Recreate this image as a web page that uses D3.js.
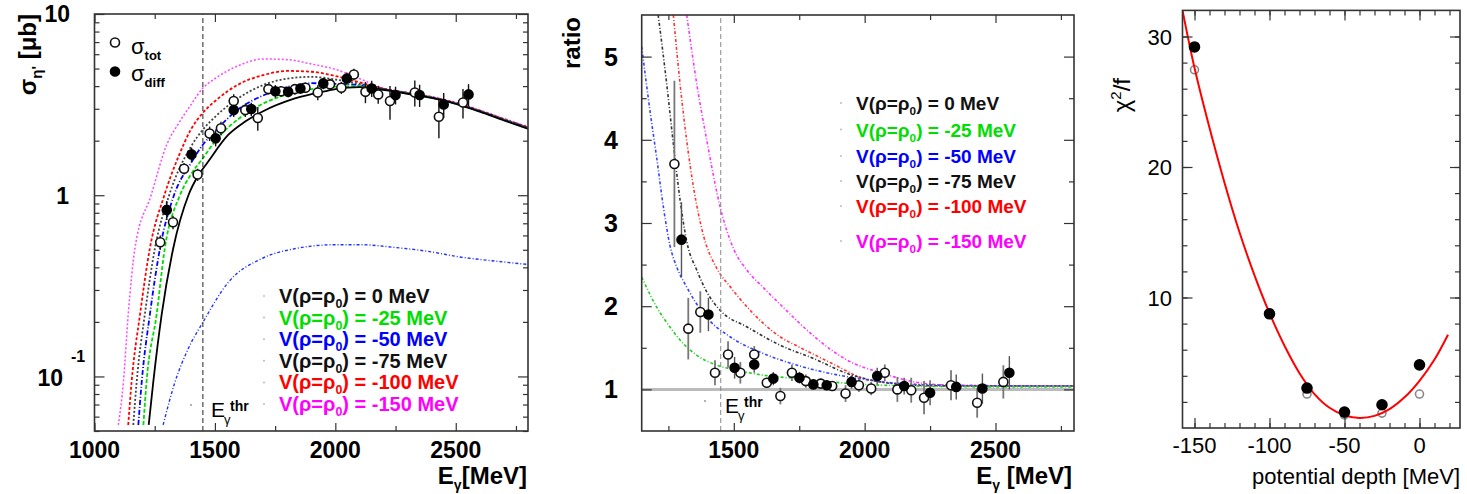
<!DOCTYPE html>
<html>
<head>
<meta charset="utf-8">
<script src="https://cdn.jsdelivr.net/npm/d3@7"></script>
<style>
  body { margin: 0; background: #fff; }
  svg { display: block; font-family: "Liberation Sans", Arial, sans-serif; }
</style>
</head>
<body>
<div id="chart"></div>
<script>
// ---------- values ----------
var potentials = ["0", "-25", "-50", "-75", "-100", "-150"]

// measured points: open = sigma_tot, filled = sigma_diff
var eTot = [1273, 1326, 1372, 1428, 1478, 1525, 1578, 1626, 1678, 1722, 1775, 1832, 1876, 1927, 1978, 2025, 2077, 2125, 2178, 2227, 2330, 2430, 2530]
var sigTot = [0.55, 0.71, 1.40, 1.30, 2.19, 2.34, 3.31, 2.95, 2.67, 3.85, 3.75, 3.85, 3.92, 3.69, 4.09, 3.92, 4.64, 3.72, 3.60, 3.31, 3.69, 2.71, 3.25]
var sigTotErr = [0.05, 0.06, 0.1, 0.1, 0.2, 0.2, 0.3, 0.25, 0.4, 0.25, 0.25, 0.25, 0.25, 0.35, 0.3, 0.3, 0.35, 0.5, 0.4, 0.7, 0.6, 0.65, 0.6]
var ratioTot = [3.71, 1.73, 1.93, 1.20, 1.42, 1.20, 1.42, 1.08, 0.92, 1.20, 1.10, 1.07, 1.04, 0.95, 1.05, 1.01, 1.20, 1.00, 0.99, 0.90, 1.05, 0.84, 1.09]
var ratioTotErr = [1.0, 0.37, 0.25, 0.15, 0.16, 0.13, 0.1, 0.06, 0.1, 0.1, 0.08, 0.06, 0.06, 0.1, 0.08, 0.08, 0.1, 0.15, 0.15, 0.2, 0.18, 0.18, 0.2]

var eDiff = [1300, 1403, 1503, 1578, 1651, 1751, 1804, 1855, 1950, 2048, 2151, 2250, 2350, 2450, 2553]
var sigDiff = [0.83, 1.68, 2.06, 2.95, 2.99, 3.75, 3.72, 3.88, 4.14, 4.41, 3.88, 3.57, 3.57, 3.17, 3.60]
var sigDiffErr = [0.1, 0.15, 0.2, 0.25, 0.25, 0.3, 0.25, 0.25, 0.3, 0.35, 0.4, 0.4, 0.5, 0.5, 0.5]
var ratioDiff = [2.80, 1.90, 1.26, 1.30, 1.13, 1.14, 1.06, 1.05, 1.09, 1.16, 1.04, 0.96, 1.03, 1.01, 1.20]
var ratioDiffErr = [0.45, 0.2, 0.13, 0.1, 0.08, 0.07, 0.06, 0.06, 0.08, 0.1, 0.1, 0.15, 0.15, 0.18, 0.2]

// model cross sections [E, sigma] for each potential depth
var sigV0 = [[1225,0.054],[1244,0.093],[1279,0.22],[1327,0.51],[1390,1.0],[1430,1.28],[1470,1.52],[1555,2.15],[1624,2.54],[1694,2.88],[1832,3.42],[1970,3.78],[2000,3.85],[2100,3.95],[2200,3.82],[2300,3.63],[2400,3.44],[2500,3.19],[2600,2.89],[2700,2.59],[2800,2.33]]
var sigV25 = [[1203,0.054],[1216,0.093],[1258,0.22],[1292,0.51],[1355,1.0],[1400,1.3],[1450,1.6],[1500,1.98],[1600,2.65],[1700,3.2],[1800,3.6],[1900,3.85],[2000,3.97],[2100,4.0],[2200,3.83],[2300,3.64],[2400,3.45],[2500,3.2],[2600,2.9],[2700,2.6],[2800,2.34]]
var sigV50 = [[1182,0.054],[1196,0.093],[1230,0.22],[1272,0.51],[1330,1.0],[1400,1.5],[1450,1.9],[1500,2.25],[1600,3.0],[1700,3.55],[1800,3.95],[1900,4.15],[2000,4.12],[2100,4.05],[2200,3.84],[2300,3.65],[2400,3.46],[2500,3.21],[2600,2.91],[2700,2.61],[2800,2.35]]
var sigV75 = [[1161,0.054],[1175,0.093],[1209,0.22],[1251,0.51],[1310,1.0],[1400,1.85],[1450,2.3],[1500,2.7],[1600,3.45],[1700,4.05],[1800,4.4],[1900,4.5],[2000,4.35],[2100,4.12],[2200,3.85],[2300,3.66],[2400,3.47],[2500,3.22],[2600,2.92],[2700,2.62],[2800,2.36]]
var sigV100 = [[1140,0.054],[1154,0.093],[1189,0.22],[1230,0.51],[1290,1.0],[1350,1.65],[1400,2.3],[1450,2.85],[1500,3.3],[1600,4.1],[1700,4.6],[1800,4.85],[1900,4.8],[2000,4.55],[2100,4.2],[2200,3.87],[2300,3.67],[2400,3.48],[2500,3.23],[2600,2.93],[2700,2.63],[2800,2.37]]
var sigV150 = [[1099,0.054],[1120,0.093],[1140,0.22],[1168,0.51],[1235,1.0],[1300,1.9],[1350,2.5],[1400,3.15],[1450,3.9],[1500,4.4],[1600,5.2],[1700,5.65],[1800,5.6],[1900,5.3],[2000,4.95],[2100,4.4],[2200,3.9],[2300,3.69],[2400,3.5],[2500,3.25],[2600,2.95],[2700,2.65],[2800,2.39]]
var sigLow = [[1285,0.054],[1334,0.093],[1389,0.142],[1451,0.2],[1555,0.33],[1694,0.447],[1832,0.507],[1998,0.533],[2108,0.533],[2247,0.515],[2385,0.49],[2523,0.455],[2650,0.435],[2800,0.415]]

// model ratios [E, ratio]
var ratioV25 = [[1148,2.35],[1160,2.27],[1205,1.99],[1256,1.75],[1307,1.55],[1359,1.41],[1436,1.29],[1512,1.23],[1614,1.17],[1743,1.13],[1870,1.09],[2000,1.06],[2200,1.04],[2500,1.03],[2800,1.03]]
var ratioV50 = [[1148,5.12],[1180,4.34],[1205,3.79],[1231,3.19],[1256,2.73],[1282,2.47],[1320,2.23],[1384,1.91],[1487,1.63],[1614,1.43],[1743,1.29],[1870,1.19],[2000,1.12],[2100,1.08],[2300,1.05],[2800,1.04]]
var ratioV75 = [[1211,5.5],[1244,4.66],[1269,3.95],[1295,3.27],[1320,2.78],[1359,2.43],[1397,2.17],[1448,1.95],[1551,1.75],[1678,1.53],[1806,1.37],[1934,1.19],[2062,1.09],[2189,1.05],[2400,1.04],[2800,1.04]]
var ratioV100 = [[1269,5.5],[1295,4.66],[1320,3.99],[1346,3.43],[1384,2.85],[1436,2.45],[1487,2.23],[1551,1.99],[1614,1.79],[1678,1.63],[1743,1.52],[1806,1.42],[1870,1.32],[1998,1.13],[2126,1.07],[2300,1.05],[2800,1.04]]
var ratioV150 = [[1320,5.5],[1359,4.66],[1397,3.99],[1448,3.19],[1499,2.69],[1551,2.43],[1614,2.22],[1678,2.02],[1743,1.82],[1806,1.64],[1870,1.48],[1934,1.35],[2062,1.2],[2190,1.09],[2318,1.05],[2500,1.04],[2800,1.04]]

// chi2 per degree of freedom vs potential depth
var depth = [-150, -100, -75, -50, -25, 0]
var chiDiff = [29.2, 8.75, 3.06, 1.22, 1.78, 4.84]
var chiTot = [27.45, 8.75, 2.6, 1.0, 1.14, 2.6]
var chiFit = [[-158,32.0],[-150,27.6],[-140,23.0],[-130,18.8],[-120,15.0],[-110,11.7],[-100,8.8],[-90,6.3],[-80,4.2],[-70,2.6],[-60,1.55],[-50,0.98],[-40,0.77],[-30,0.93],[-20,1.45],[-10,2.35],[0,3.62],[10,5.25],[19,7.15]]

var thresholdE = 1450

// ---------- drawing ----------
var svg = d3.select('#chart').append('svg')
  .attr('width', 1467).attr('height', 494)

var legendColours = ['#111', '#00dd00', '#0000ff', '#111', '#ff0000', '#ff00ff']

function inwardTicks(g, x, y, xMajor, xMinor, yMajor, yMinor, xl, yl) {
  var xr = x.range(), yr = y.range()
  function add(axis, vals, len, tr) {
    g.append('g').attr('transform', tr)
      .call(axis.tickValues(vals).tickSize(-len).tickFormat(''))
      .call(function(s) { s.select('.domain').remove() })
      .selectAll('line').attr('stroke', '#333').attr('stroke-width', 1.2)
  }
  add(d3.axisBottom(x), xMajor, xl[0], 'translate(0,' + yr[0] + ')')
  add(d3.axisBottom(x), xMinor, xl[1], 'translate(0,' + yr[0] + ')')
  add(d3.axisTop(x), xMajor, xl[0], 'translate(0,' + yr[1] + ')')
  add(d3.axisTop(x), xMinor, xl[1], 'translate(0,' + yr[1] + ')')
  add(d3.axisLeft(y), yMajor, yl[0], 'translate(' + xr[0] + ',0)')
  add(d3.axisLeft(y), yMinor, yl[1], 'translate(' + xr[0] + ',0)')
  add(d3.axisRight(y), yMajor, yl[0], 'translate(' + xr[1] + ',0)')
  add(d3.axisRight(y), yMinor, yl[1], 'translate(' + xr[1] + ',0)')
}

function frame(g, x, y) {
  var xr = x.range(), yr = y.range()
  g.append('rect')
    .attr('x', xr[0]).attr('y', yr[1])
    .attr('width', xr[1] - xr[0]).attr('height', yr[0] - yr[1])
    .attr('fill', 'none').attr('stroke', '#333').attr('stroke-width', 1.6)
}

function clipFor(id, x, y) {
  var xr = x.range(), yr = y.range()
  svg.append('clipPath').attr('id', id).append('rect')
    .attr('x', xr[0]).attr('y', yr[1])
    .attr('width', xr[1] - xr[0]).attr('height', yr[0] - yr[1])
  return 'url(#' + id + ')'
}

function legendLine(g, x, y, value, colour, size) {
  g.append('circle').attr('cx', x - 15).attr('cy', y - 7).attr('r', 1).attr('fill', '#bbb')
  var t = g.append('text').attr('x', x).attr('y', y)
    .attr('font-size', size).attr('font-weight', 'bold').attr('fill', colour)
  t.append('tspan').text('V(ρ=ρ')
  t.append('tspan').attr('font-size', size * 0.62).attr('dy', 5).text('0')
  t.append('tspan').attr('dy', -5).text(') = ' + value + ' MeV')
}

function thrLabel(g, x, y) {
  g.append('circle').attr('cx', x - 20).attr('cy', y - 12).attr('r', 1).attr('fill', '#999')
  g.append('text').attr('x', x).attr('y', y).attr('font-size', 21).text('E')
  g.append('text').attr('x', x + 13).attr('y', y + 7).attr('font-size', 13).text('γ')
  g.append('text').attr('x', x + 19).attr('y', y - 6).attr('font-size', 14)
    .attr('font-weight', 'bold').text('thr')
}

function energyTitle(g, xEnd, y, gap) {
  var t = g.append('text').attr('x', xEnd).attr('y', y).attr('text-anchor', 'end')
    .attr('font-size', 24).attr('font-weight', 'bold')
  t.append('tspan').text('E')
  t.append('tspan').attr('font-size', 14).attr('dy', 6).text('γ')
  t.append('tspan').attr('dy', -6).text(gap + '[MeV]')
}

function errorBars(g, x, y, es, vs, errs, colour, width) {
  g.selectAll(null).data(es).enter().append('line')
    .attr('x1', function(d) { return x(d) }).attr('x2', function(d) { return x(d) })
    .attr('y1', function(d, i) { return y(vs[i] + errs[i]) })
    .attr('y2', function(d, i) { return y(Math.max(vs[i] - errs[i], y.domain()[0])) })
    .attr('stroke', colour).attr('stroke-width', width)
}

function markers(g, x, y, es, vs, filled, r, edge) {
  g.selectAll(null).data(es).enter().append('circle')
    .attr('cx', function(d) { return x(d) })
    .attr('cy', function(d, i) { return y(vs[i]) })
    .attr('r', r)
    .attr('fill', filled ? '#000' : '#fff')
    .attr('stroke', filled ? '#000' : edge).attr('stroke-width', 1.6)
}

// ===== left panel: cross sections =====
var xL = d3.scaleLinear().domain([1000, 2800]).range([94.5, 528])
var yL = d3.scaleLog().domain([0.05, 10]).range([431, 14])
var gL = svg.append('g')
var clipL = clipFor('clipL', xL, yL)

var lineL = d3.line().x(function(d) { return xL(d[0]) }).y(function(d) { return yL(d[1]) })
  .curve(d3.curveMonotoneX)

var curvesL = [
  { data: sigLow, colour: '#2233ff', dash: '3,2,1,2', w: 1.4 },
  { data: sigV150, colour: '#ff44ff', dash: '2,2', w: 1.5 },
  { data: sigV100, colour: '#ff0000', dash: '3,2', w: 1.8 },
  { data: sigV75, colour: '#444', dash: '2,2', w: 1.8 },
  { data: sigV50, colour: '#0000ff', dash: '5,2,1,2', w: 1.8 },
  { data: sigV25, colour: '#00dd00', dash: '4,2', w: 1.8 },
  { data: sigV0, colour: '#000', dash: null, w: 1.8 }
]
gL.append('g').attr('clip-path', clipL).selectAll('path').data(curvesL).enter().append('path')
  .attr('d', function(d) { return lineL(d.data) })
  .attr('fill', 'none').attr('stroke', function(d) { return d.colour })
  .attr('stroke-width', function(d) { return d.w })
  .attr('stroke-dasharray', function(d) { return d.dash })

gL.append('line').attr('x1', xL(thresholdE)).attr('x2', xL(thresholdE))
  .attr('y1', yL.range()[0]).attr('y2', yL.range()[1])
  .attr('stroke', '#222').attr('stroke-width', 1).attr('stroke-dasharray', '5,3')

errorBars(gL, xL, yL, eTot, sigTot, sigTotErr, '#111', 1.4)
errorBars(gL, xL, yL, eDiff, sigDiff, sigDiffErr, '#111', 1.4)
markers(gL, xL, yL, eTot, sigTot, false, 4.5, '#111')
markers(gL, xL, yL, eDiff, sigDiff, true, 4.5)

inwardTicks(gL, xL, yL, [1000, 1500, 2000, 2500], [1250, 1750, 2250, 2750],
  [0.1, 1, 10], [0.05, 0.06, 0.07, 0.08, 0.09, 0.2, 0.3, 0.4, 0.5, 0.6, 0.7, 0.8, 0.9, 2, 3, 4, 5, 6, 7, 8, 9],
  [8, 5], [10, 5])
frame(gL, xL, yL)

gL.selectAll('.xlab').data([1000, 1500, 2000, 2500]).enter().append('text')
  .attr('x', function(d) { return xL(d) }).attr('y', 458)
  .attr('text-anchor', 'middle').attr('font-size', 23).attr('font-weight', 'bold')
  .text(function(d) { return d })
gL.append('text').attr('x', 70).attr('y', yL(10) + 8).attr('text-anchor', 'end')
  .attr('font-size', 23).attr('font-weight', 'bold').text('10')
gL.append('text').attr('x', 69).attr('y', yL(1) + 9).attr('text-anchor', 'end')
  .attr('font-size', 23).attr('font-weight', 'bold').text('1')
gL.append('text').attr('x', 63).attr('y', yL(0.1) + 10).attr('text-anchor', 'end')
  .attr('font-size', 23).attr('font-weight', 'bold').text('10')
gL.append('text').attr('x', 71).attr('y', yL(0.1) - 14)
  .attr('font-size', 16).attr('font-weight', 'bold').text('-1')

energyTitle(gL, 527, 484, '')
var tyL = gL.append('text').attr('transform', 'translate(36,14) rotate(-90)')
  .attr('text-anchor', 'end').attr('font-size', 24).attr('font-weight', 'bold')
tyL.append('tspan').text('σ')
tyL.append('tspan').attr('font-size', 15).attr('dy', 6).text('η\'')
tyL.append('tspan').attr('dy', -6).text(' [μb]')

// legend top-left
markers(gL, d3.scaleLinear(), d3.scaleLinear(), [115], [42.5], false, 4.5, '#111')
markers(gL, d3.scaleLinear(), d3.scaleLinear(), [115], [71.5], true, 4.5)
var s1 = gL.append('text').attr('x', 131).attr('y', 54).attr('font-size', 22)
s1.append('tspan').text('σ')
s1.append('tspan').attr('font-size', 13).attr('font-weight', 'bold').attr('dy', 6).text('tot')
var s2 = gL.append('text').attr('x', 131).attr('y', 81).attr('font-size', 22)
s2.append('tspan').text('σ')
s2.append('tspan').attr('font-size', 13).attr('font-weight', 'bold').attr('dy', 6).text('diff')

potentials.forEach(function(p, i) {
  legendLine(gL, 279, 303 + i * 21.6, p, legendColours[i], 20)
})
thrLabel(gL, 211, 417)

// ===== middle panel: ratio =====
var xM = d3.scaleLinear().domain([1148, 2800]).range([641.7, 1074])
var yM = d3.scaleLinear().domain([0.5, 5.5]).range([431, 15])
var gM = svg.append('g')
var clipM = clipFor('clipM', xM, yM)
var lineM = d3.line().x(function(d) { return xM(d[0]) }).y(function(d) { return yM(d[1]) })
  .curve(d3.curveMonotoneX)

gM.append('path').attr('clip-path', clipM)
  .attr('d', lineM([[1148, 1], [2800, 1]]))
  .attr('stroke', '#bbb').attr('stroke-width', 3).attr('fill', 'none')

var curvesM = [
  { data: ratioV150, colour: '#ff33ff' },
  { data: ratioV100, colour: '#ff3333' },
  { data: ratioV75, colour: '#333' },
  { data: ratioV50, colour: '#3344ff' },
  { data: ratioV25, colour: '#22cc22' }
]
gM.append('g').attr('clip-path', clipM).selectAll('path').data(curvesM).enter().append('path')
  .attr('d', function(d) { return lineM(d.data) })
  .attr('fill', 'none').attr('stroke', function(d) { return d.colour })
  .attr('stroke-width', 1.6).attr('stroke-dasharray', '3,2,1,2')

gM.append('line').attr('x1', xM(thresholdE)).attr('x2', xM(thresholdE))
  .attr('y1', yM.range()[0]).attr('y2', yM.range()[1])
  .attr('stroke', '#888').attr('stroke-width', 1).attr('stroke-dasharray', '5,3')

errorBars(gM, xM, yM, eTot, ratioTot, ratioTotErr, '#777', 1.8)
errorBars(gM, xM, yM, eDiff, ratioDiff, ratioDiffErr, '#555', 1.4)
markers(gM, xM, yM, eTot, ratioTot, false, 4.5, '#111')
markers(gM, xM, yM, eDiff, ratioDiff, true, 4.5)

inwardTicks(gM, xM, yM, [1500, 2000, 2500], [1250, 1750, 2250, 2750],
  [1, 2, 3, 4, 5], [1.5, 2.5, 3.5, 4.5], [8, 5], [10, 5])
frame(gM, xM, yM)

gM.selectAll('.xlab').data([1500, 2000, 2500]).enter().append('text')
  .attr('x', function(d) { return xM(d) }).attr('y', 458)
  .attr('text-anchor', 'middle').attr('font-size', 23).attr('font-weight', 'bold')
  .text(function(d) { return d })
gM.selectAll('.ylab').data([1, 2, 3, 4, 5]).enter().append('text')
  .attr('x', 618).attr('y', function(d) { return yM(d) + 9 })
  .attr('text-anchor', 'end').attr('font-size', 25).attr('font-weight', 'bold')
  .text(function(d) { return d })

energyTitle(gM, 1072, 484, ' ')
gM.append('text').attr('transform', 'translate(580,17) rotate(-90)')
  .attr('text-anchor', 'end').attr('font-size', 24).attr('font-weight', 'bold').text('ratio')

var mBase = [110, 136.5, 163, 188, 213, 248]
potentials.forEach(function(p, i) {
  legendLine(gM, 856, mBase[i], p, legendColours[i], 19)
})
thrLabel(gM, 725, 413)

// ===== right panel: chi2/f =====
var xR = d3.scaleLinear().domain([-158, 27]).range([1182.5, 1460])
var yR = d3.scaleLinear().domain([0, 32]).range([428, 10.4])
var gR = svg.append('g')
var clipR = clipFor('clipR', xR, yR)
var lineR = d3.line().x(function(d) { return xR(d[0]) }).y(function(d) { return yR(d[1]) })
  .curve(d3.curveCatmullRom)

markers(gR, xR, yR, depth, chiTot, false, 4, '#888')
gR.append('path').attr('clip-path', clipR).attr('d', lineR(chiFit))
  .attr('fill', 'none').attr('stroke', '#ff0000').attr('stroke-width', 2)
markers(gR, xR, yR, depth, chiDiff, true, 5)

inwardTicks(gR, xR, yR, [-150, -100, -50, 0], d3.range(-150, 30, 10),
  [10, 20, 30], d3.range(2, 32, 2), [10, 5], [10, 5])
frame(gR, xR, yR)

gR.selectAll('.xlab').data([-150, -100, -50, 0]).enter().append('text')
  .attr('x', function(d) { return xR(d) }).attr('y', 453)
  .attr('text-anchor', 'middle').attr('font-size', 22)
  .text(function(d) { return d })
gR.selectAll('.ylab').data([10, 20, 30]).enter().append('text')
  .attr('x', 1172).attr('y', function(d) { return yR(d) + 8 })
  .attr('text-anchor', 'end').attr('font-size', 22)
  .text(function(d) { return d })
gR.append('text').attr('x', 1460).attr('y', 484).attr('text-anchor', 'end')
  .attr('font-size', 22).text('potential depth [MeV]')
var tyR = gR.append('text').attr('transform', 'translate(1130,78) rotate(-90)')
  .attr('text-anchor', 'end').attr('font-size', 24)
tyR.append('tspan').text('χ')
tyR.append('tspan').attr('font-size', 15).attr('dy', -9).text('2')
tyR.append('tspan').attr('dy', 9).text('/f')
</script>
</body>
</html>
